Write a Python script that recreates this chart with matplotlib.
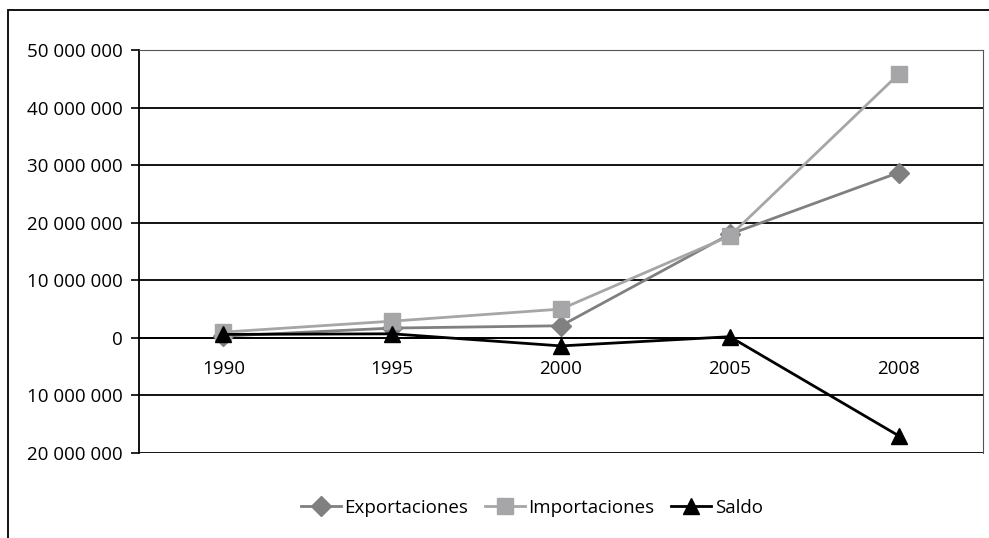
import matplotlib.pyplot as plt
import matplotlib.patches as patches
from matplotlib.ticker import FuncFormatter, MultipleLocator

plt.rcParams['font.family'] = ['Open Sans', 'DejaVu Sans']

years = ['1990', '1995', '2000', '2005', '2008']
exportaciones = [300000, 1700000, 2100000, 18000000, 28700000]
importaciones = [1000000, 2900000, 5000000, 17700000, 45800000]
saldo = [600000, 700000, -1400000, 200000, -17000000]

fig = plt.figure(figsize=(9.89, 5.38), dpi=100)
W, H = 989, 538

# outer frame (only top and left edges visible in the crop)
fig.add_artist(patches.Rectangle((8 / W, -0.1), 1.2, 1 - 10 / H + 0.1,
                                 transform=fig.transFigure, fill=False,
                                 edgecolor='black', linewidth=1.3))

ax = fig.add_axes([139 / W, 1 - 453 / H, (983 - 139) / W, (453 - 50) / H])

x = list(range(len(years)))
ax.plot(x, exportaciones, color='#808080', linewidth=2.0, marker='D',
        markersize=10, label='Exportaciones', zorder=3)
ax.plot(x, importaciones, color='#a6a6a8', linewidth=2.0, marker='s',
        markersize=11, label='Importaciones', zorder=3.5)
ax.plot(x, saldo, color='black', linewidth=2.0, marker='^',
        markersize=12, label='Saldo', zorder=4)

ax.set_xlim(-0.5, 4.5)
ax.set_ylim(-20000000, 50000000)
ax.yaxis.set_major_locator(MultipleLocator(10000000))
ax.yaxis.set_major_formatter(FuncFormatter(
    lambda v, p: f"{abs(int(round(v))):,}".replace(",", " ")))
ax.grid(axis='y', color='black', linewidth=1.3)
ax.set_axisbelow(True)

ax.set_xticks(x)
ax.set_xticklabels(years)
ax.spines['bottom'].set_position(('data', 0))
ax.spines['bottom'].set_linewidth(1.3)
ax.spines['left'].set_linewidth(1.3)
ax.spines['top'].set_color('#555555')
ax.spines['right'].set_color('#555555')
ax.tick_params(axis='x', length=0, pad=16, labelsize=13.5)
ax.tick_params(axis='y', length=6, width=1.2, pad=6, labelsize=13.5)

fig.legend(loc='center', bbox_to_anchor=(532 / W, 1 - 508 / H), ncol=3,
           frameon=False, fontsize=13.5, handlelength=2.1, handletextpad=0.2,
           columnspacing=0.9)

fig.savefig('out.png', dpi=100)
